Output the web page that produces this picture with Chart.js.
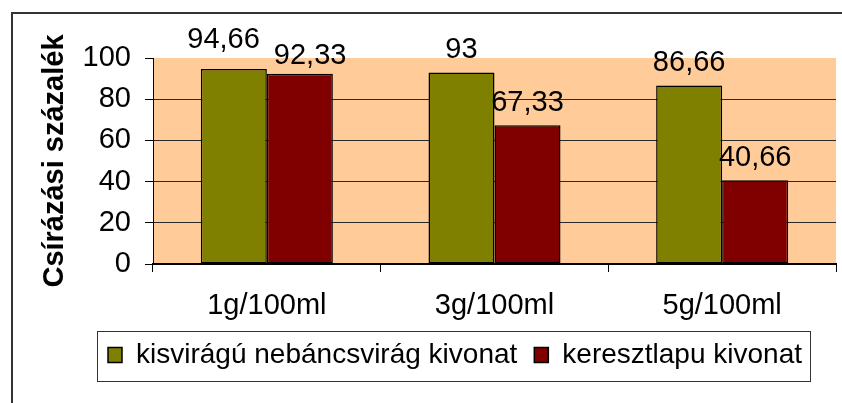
<!DOCTYPE html>
<html><head><meta charset="utf-8">
<script src="https://cdn.jsdelivr.net/npm/chart.js@4"></script>
<style>html,body{margin:0;padding:0;background:#fff}#wrap{width:842px;height:403px}</style>
</head><body><div id="wrap"><canvas id="c" width="842" height="403"></canvas></div>
<script>
const categories = ['1g/100ml', '3g/100ml', '5g/100ml'];
const seriesNames = ['kisvirágú nebáncsvirág kivonat', 'keresztlapu kivonat'];
const kisviragu = [94.66, 93, 86.66];
const keresztlapu = [92.33, 67.33, 40.66];
const yTicks = [0, 20, 40, 60, 80, 100];
const yTitle = 'Csírázási százalék';

const FONT = '"Liberation Sans", Arial, sans-serif';
Chart.defaults.color = '#000';
Chart.defaults.font.family = FONT;

const plotBg = {
  id: 'plotBg',
  beforeDraw(chart) {
    const {ctx, chartArea: a} = chart;
    ctx.save();
    ctx.fillStyle = '#FFCC99';
    ctx.fillRect(a.left, a.top, a.right - a.left, a.bottom - a.top);
    ctx.restore();
  },
  afterDraw(chart) {
    const ctx = chart.ctx;
    ctx.save();
    ctx.strokeStyle = '#333';
    ctx.lineWidth = 2;
    ctx.strokeRect(12, 13, chart.width + 20, chart.height + 20);
    const hb = chart.legend.legendHitBoxes;
    if (hb && hb.length) {
      const l = hb[0].left - 11;
      const t = hb[0].top - 10;
      const last = hb[hb.length - 1];
      const r = last.left + last.width + 8;
      const b = hb[0].top + hb[0].height + 12;
      ctx.strokeStyle = '#333';
      ctx.lineWidth = 1;
      ctx.strokeRect(Math.round(l) + 0.5, Math.round(t) + 0.5, Math.round(r - l), Math.round(b - t));
    }
    ctx.restore();
  }
};

const valueLabels = {
  id: 'valueLabels',
  afterDatasetsDraw(chart) {
    const ctx = chart.ctx;
    ctx.save();
    ctx.font = '29px ' + FONT;
    ctx.fillStyle = '#000';
    ctx.textAlign = 'center';
    ctx.textBaseline = 'alphabetic';
    const n = chart.data.labels.length;
    for (let i = 0; i < n; i++) {
      const items = chart.data.datasets.map((ds, d) => {
        const el = chart.getDatasetMeta(d).data[i];
        const t = String(ds.data[i]).replace('.', ',');
        return {x: el.x, y: el.y - 14, t, w: ctx.measureText(t).width};
      });
      for (let k = 0; k < items.length - 1; k++) {
        const a = items[k], b = items[k + 1];
        const need = a.w / 2 + b.w / 2 + 14;
        const sep = b.x - a.x;
        if (sep < need && Math.abs(a.y - b.y) < 24) {
          const dd = (need - sep) / 2;
          a.x -= dd; b.x += dd; a.y -= 7; b.y += 4;
        }
      }
      items.forEach(it => ctx.fillText(it.t, it.x, it.y));
    }
    ctx.restore();
  }
};

new Chart(document.getElementById('c'), {
  type: 'bar',
  data: {
    labels: categories,
    datasets: [
      {label: seriesNames[0], data: kisviragu, backgroundColor: '#808000', borderColor: '#000', borderWidth: 1.5, borderSkipped: false},
      {label: seriesNames[1], data: keresztlapu, backgroundColor: '#800000', borderColor: '#000', borderWidth: 1.5, borderSkipped: false}
    ]
  },
  options: {
    responsive: false,
    animation: false,
    events: [],
    layout: {padding: {left: 74, top: 58, right: 6, bottom: 24}},
    datasets: {bar: {categoryPercentage: 0.58, barPercentage: 1}},
    plugins: {
      tooltip: {enabled: false},
      legend: {
        position: 'bottom',
        align: 'center',
        labels: {
          font: {size: 28, family: FONT},
          color: '#000',
          boxWidth: 14,
          boxHeight: 15,
          padding: 17
        }
      }
    },
    scales: {
      x: {
        grid: {drawOnChartArea: false, tickLength: 8, color: '#000', offset: true},
        border: {color: '#000', width: 2},
        ticks: {font: {size: 29, family: FONT}, color: '#000', padding: 17, maxRotation: 0},
        afterFit(s) { s.height = 60; }
      },
      y: {
        min: 0, max: 100,
        afterBuildTicks(s) { s.ticks = yTicks.map(v => ({value: v})); },
        grid: {
          color: c => (c.tick && (c.tick.value === 100 || c.tick.value === 0)) ? 'rgba(0,0,0,0)' : '#2a2a2a',
          tickColor: '#000',
          tickLength: 8,
          lineWidth: 1
        },
        border: {color: '#000', width: 1},
        ticks: {font: {size: 29, family: FONT}, color: '#000', padding: 14},
        title: {
          display: true,
          text: yTitle,
          font: {size: 29, weight: 'bold', family: FONT},
          color: '#000',
          padding: {top: -36, bottom: 0}
        },
        afterFit(s) { s.width = 79; }
      }
    }
  },
  plugins: [plotBg, valueLabels]
});
</script>
</body></html>
